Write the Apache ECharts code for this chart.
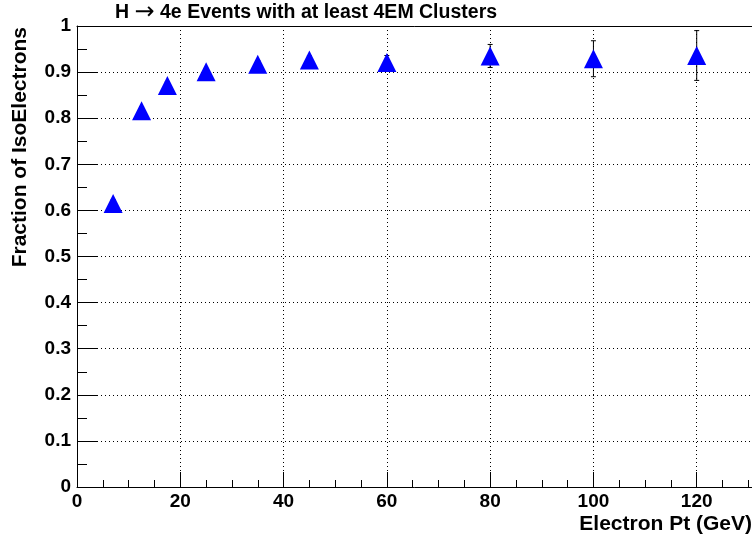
<!DOCTYPE html>
<html>
<head>
<meta charset="utf-8">
<script src="https://cdn.jsdelivr.net/npm/echarts@6/dist/echarts.min.js"></script>
<style>html,body{margin:0;padding:0;background:#fff;}#chart{width:752px;height:537px;}</style>
</head>
<body>
<div id="chart"></div>
<script>
const chartTitle = 'H {arr|\u2192} 4e Events with at least 4EM Clusters';
const xTitle = 'Electron Pt (GeV)';
const yTitle = 'Fraction of IsoElectrons';
const ptValues = [7, 12.5, 17.5, 25, 35, 45, 60, 80, 100, 120];
const fractionValues = [0.615, 0.816, 0.871, 0.901, 0.917, 0.926, 0.921, 0.935, 0.929, 0.936];
const fractionErrors = [0.008, 0.009, 0.008, 0.007, 0.008, 0.009, 0.015, 0.025, 0.039, 0.054];
const xTickLabels = [0, 20, 40, 60, 80, 100, 120];
const yTickLabels = [0, 0.1, 0.2, 0.3, 0.4, 0.5, 0.6, 0.7, 0.8, 0.9, 1];

const FONT = 'Liberation Sans, Arial, Helvetica, sans-serif';
const points = ptValues.map((x, i) => [x, fractionValues[i]]);
const errs = ptValues.map((x, i) => [x, fractionValues[i], fractionErrors[i]]);

const chart = echarts.init(document.getElementById('chart'), null, {renderer: 'canvas'});
chart.setOption({
  animation: false,
  backgroundColor: '#fff',
  title: {
    text: chartTitle, left: 115, top: 2, padding: 0,
    textStyle: {
      fontFamily: FONT, fontWeight: 'bold', fontSize: 19.5, color: '#000', lineHeight: 22,
      rich: {arr: {fontFamily: 'DejaVu Sans', fontWeight: 'normal', fontSize: 24, color: '#000', lineHeight: 22}}
    }
  },
  grid: {left: 77, top: 26, width: 723, height: 461, outerBoundsMode: 'none', containLabel: false},
  xAxis: [{
    type: 'value', min: 0, max: 140, interval: 20,
    axisLine: {show: true, lineStyle: {color: '#000', width: 1}},
    axisTick: {show: true, inside: true, length: 15, lineStyle: {color: '#000'}},
    minorTick: {show: true, splitNumber: 4, length: 7, lineStyle: {color: '#000'}},
    splitLine: {show: true, lineStyle: {color: '#000', type: [1, 3], width: 1}},
    axisLabel: {
      margin: 5, color: '#000', fontFamily: FONT, fontWeight: 'bold', fontSize: 19,
      formatter: v => xTickLabels.indexOf(v) >= 0 ? String(v) : ''
    }
  }, {
    type: 'value', position: 'top', min: 0, max: 140,
    axisLine: {show: true, onZero: false, lineStyle: {color: '#000', width: 1}},
    axisTick: {show: false}, axisLabel: {show: false}, splitLine: {show: false}
  }],
  yAxis: [{
    type: 'value', min: 0, max: 1, interval: 0.1,
    axisLine: {show: true, lineStyle: {color: '#000', width: 1}},
    axisTick: {show: true, inside: true, length: 20, lineStyle: {color: '#000'}},
    minorTick: {show: true, splitNumber: 2, length: 10, lineStyle: {color: '#000'}},
    splitLine: {show: true, lineStyle: {color: '#000', type: [1, 3], width: 1}},
    axisLabel: {
      margin: 6, color: '#000', fontFamily: FONT, fontWeight: 'bold', fontSize: 19,
      formatter: v => {
        const k = yTickLabels.find(t => Math.abs(t - v) < 1e-9);
        return k === undefined ? '' : String(k);
      }
    }
  }],
  graphic: [
    {type: 'text', x: 20, y: 27, rotation: Math.PI / 2,
     style: {text: yTitle, font: 'bold 21px ' + FONT, fill: '#000',
             align: 'right', textAlign: 'right', verticalAlign: 'middle', textVerticalAlign: 'middle'}},
    {type: 'text', x: 752, y: 524,
     style: {text: xTitle, font: 'bold 21px ' + FONT, fill: '#000',
             align: 'right', textAlign: 'right', verticalAlign: 'middle', textVerticalAlign: 'middle'}}
  ],
  series: [{
    type: 'custom',
    xAxisIndex: 0, yAxisIndex: 0,
    encode: {x: 0, y: 1},
    data: errs,
    z: 2,
    renderItem: function (params, api) {
      const x = api.value(0), y = api.value(1), e = api.value(2);
      const top = api.coord([x, y + e]);
      const bot = api.coord([x, y - e]);
      const cap = 2.5;
      const st = {stroke: '#000', lineWidth: 1};
      return {
        type: 'group',
        children: [
          {type: 'line', shape: {x1: top[0], y1: top[1], x2: bot[0], y2: bot[1]}, style: st},
          {type: 'line', shape: {x1: top[0] - cap, y1: top[1], x2: top[0] + cap, y2: top[1]}, style: st},
          {type: 'line', shape: {x1: bot[0] - cap, y1: bot[1], x2: bot[0] + cap, y2: bot[1]}, style: st}
        ]
      };
    }
  }, {
    type: 'scatter',
    xAxisIndex: 0, yAxisIndex: 0,
    data: points,
    symbol: 'triangle',
    symbolSize: 19,
    z: 3,
    itemStyle: {color: '#0000ff', opacity: 1}
  }]
});
</script>
</body>
</html>
